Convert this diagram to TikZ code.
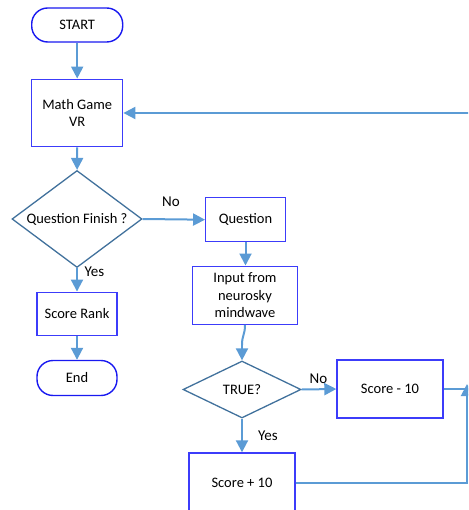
\documentclass[tikz,border=0pt]{standalone}
\usepackage{fontspec}
\setmainfont{Carlito}
\usetikzlibrary{shapes.geometric,arrows.meta}
\definecolor{boxblue}{RGB}{60,60,250}
\definecolor{termblue}{RGB}{25,25,240}
\definecolor{diablue}{RGB}{65,113,156}
\definecolor{arrblue}{RGB}{91,155,213}
\tikzset{
  txt/.style={font=\fontsize{14.5}{17.5}\selectfont, align=center, text=black},
  procbox/.style={txt, draw=boxblue, line width=1.4pt, inner sep=0pt},
  termbox/.style={txt, draw=termblue, line width=1.4pt, rounded corners=16pt, inner sep=0pt},
  decbox/.style={txt, diamond, draw=diablue, line width=1.3pt, inner sep=0pt, aspect=1.3},
  flow/.style={draw=arrblue, line width=2pt, -{Triangle[length=12pt,width=12pt]}},
  link/.style={draw=arrblue, line width=2pt},
  lbl/.style={font=\fontsize{15}{18}\selectfont, text=black, inner sep=0pt}
}
\begin{document}
\begin{tikzpicture}[x=1pt,y=-1pt]
\useasboundingbox (0,0) rectangle (468,510);
\clip (0,0) rectangle (468,510);
% nodes
\node[termbox, minimum width=91pt, minimum height=34pt] (start) at (77.2,25) {START};
\node[procbox, minimum width=91pt, minimum height=67.5pt] (game) at (77.2,113) {Math Game\\VR};
\node[decbox, minimum width=130pt, minimum height=97pt] (qf) at (77,219) {Question Finish ?};
\node[procbox, minimum width=80pt, minimum height=43.5pt] (rank) at (77,314) {Score Rank};
\node[termbox, minimum width=80pt, minimum height=35pt] (end) at (77,378) {End};
\node[procbox, minimum width=79.5pt, minimum height=44pt] (quest) at (245.5,219.7) {Question};
\node[procbox, minimum width=105.5pt, minimum height=58pt] (input) at (245,295.2) {Input from\\neurosky\\mindwave};
\node[decbox, minimum width=118pt, minimum height=57pt] (tru) at (242,389.5) {TRUE?};
\node[procbox, minimum width=106pt, minimum height=58pt] (minus) at (390,389) {Score - 10};
\node[procbox, minimum width=106pt, minimum height=60pt] (plus) at (242,483) {Score + 10};
\coordinate (fb) at (475,113);
\coordinate (rc) at (467,483);
\coordinate (rt) at (467,384);
\coordinate (rm) at (467,389);
\coordinate (bend) at (242,345);
% labels
\node[lbl] (no1) at (171,202) {No};
\node[lbl] (yes1) at (94.5,272) {Yes};
\node[lbl] (no2) at (318.5,379) {No};
\node[lbl] (yes2) at (268,436) {Yes};
% connectors
\draw[flow] (start) -- (game);
\draw[flow] (game) -- (qf);
\draw[flow] (qf) -- (rank);
\draw[flow] (rank) -- (end);
\draw[flow] (qf.east) -- (quest.west);
\draw[flow] (quest) -- (quest.south |- input.north);
\draw[link] (input.south) .. controls (245,335) and (242,335) .. (bend);
\draw[flow] (bend) -- (tru.north);
\draw[flow] (tru.east) -- (minus.west);
\draw[flow] (tru.south) -- (plus.north);
\draw[link] (minus.east) -- (rm);
\draw[flow] (plus.east) -- (rc) -- (rt);
\draw[flow] (fb) -- (game.east);
\end{tikzpicture}
\end{document}
